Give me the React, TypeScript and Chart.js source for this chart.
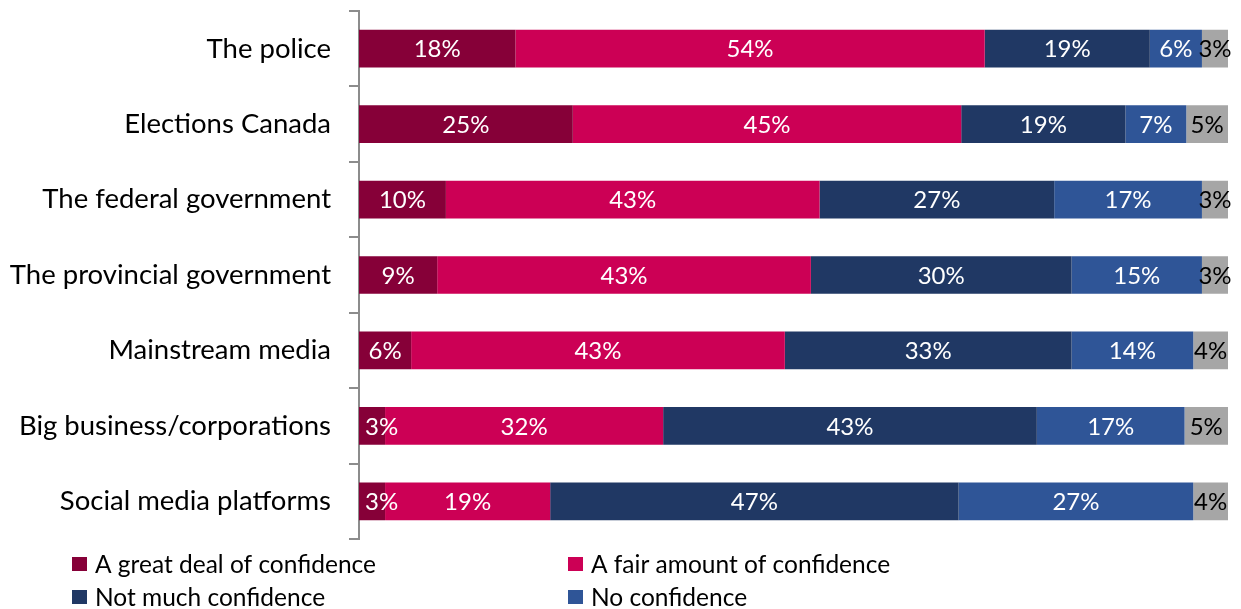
import React, { useEffect, useRef } from "react";
import { Chart, registerables } from "chart.js";

Chart.register(...registerables);

const categories = [
  "The police",
  "Elections Canada",
  "The federal government",
  "The provincial government",
  "Mainstream media",
  "Big business/corporations",
  "Social media platforms",
];
const seriesNames = [
  "A great deal of confidence",
  "A fair amount of confidence",
  "Not much confidence",
  "No confidence",
  "Don't know",
];
const greatDeal = [18, 24.6, 10, 9, 6, 3, 3];
const fairAmount = [54, 44.7, 43, 43, 43, 32, 19];
const notMuch = [19, 18.9, 27, 30, 33, 43, 47];
const noConfidence = [6, 7, 17, 15, 14, 17, 27];
const dontKnow = [3, 4.8, 3, 3, 4, 5, 4];
const colors = ["#860038", "#CC0055", "#203864", "#2F5597", "#A6A6A6"];
const labelColors = ["#FFFFFF", "#FFFFFF", "#FFFFFF", "#FFFFFF", "#000000"];
const legendCount = 4;

const FONT = "Lato, 'Open Sans', sans-serif";

const dataLabelPlugin = {
  id: "dataLabels",
  afterDatasetsDraw(chart: any) {
    const ctx = chart.ctx;
    ctx.save();
    ctx.font = `24px ${FONT}`;
    ctx.textAlign = "center";
    ctx.textBaseline = "middle";
    const left = chart.chartArea.left;
    chart.data.datasets.forEach((ds: any, di: number) => {
      const meta = chart.getDatasetMeta(di);
      meta.data.forEach((bar: any, i: number) => {
        const v = ds.data[i];
        const text = `${Math.round(v)}%`;
        const w = ctx.measureText(text).width;
        let cx = (bar.x + bar.base) / 2;
        cx = Math.max(cx, left + w / 2 + 6);
        ctx.fillStyle = labelColors[di];
        ctx.fillText(text, cx, bar.y + 1);
      });
    });
    ctx.restore();
  },
};

const legendPlugin = {
  id: "colLegend",
  afterDraw(chart: any) {
    const ctx = chart.ctx;
    ctx.save();
    ctx.font = `24.5px ${FONT}`;
    ctx.textBaseline = "middle";
    ctx.textAlign = "left";
    const colX = [72, 568];
    const rowY = [564, 597];
    for (let i = 0; i < legendCount; i++) {
      const x = colX[i % 2];
      const y = rowY[Math.floor(i / 2)];
      ctx.fillStyle = colors[i];
      ctx.fillRect(x, y - 7, 15, 14);
      ctx.fillStyle = "#000000";
      ctx.fillText(seriesNames[i], x + 23, y + 1);
    }
    ctx.restore();
  },
};

export default function App() {
  const ref = useRef<HTMLCanvasElement | null>(null);
  useEffect(() => {
    if (!ref.current) return;
    const values = [greatDeal, fairAmount, notMuch, noConfidence, dontKnow];
    const chart = new Chart(ref.current, {
      type: "bar",
      data: {
        labels: categories,
        datasets: values.map((d, i) => ({
          label: seriesNames[i],
          data: d,
          backgroundColor: colors[i],
          borderWidth: 0,
          barPercentage: 0.5,
          categoryPercentage: 1,
        })),
      },
      options: {
        indexAxis: "y",
        animation: false,
        responsive: false,
        maintainAspectRatio: false,
        layout: { padding: { top: 11, right: 13, bottom: 70, left: 0 } },
        plugins: {
          legend: { display: false },
          tooltip: { enabled: false },
        },
        scales: {
          x: {
            stacked: true,
            display: false,
            min: 0,
            max: 100,
          },
          y: {
            stacked: true,
            afterFit: (scale: any) => {
              scale.width = 359;
              scale.paddingTop = 0;
              scale.paddingBottom = 0;
            },
            grid: {
              drawOnChartArea: false,
              offset: true,
              tickLength: 10,
              color: "#8C8C8C",
              lineWidth: 2,
            },
            border: { color: "#8C8C8C", width: 2 },
            ticks: {
              padding: 18,
              color: "#000000",
              font: { family: FONT, size: 27.5 },
            },
          },
        },
      },
      plugins: [dataLabelPlugin, legendPlugin],
    });
    return () => chart.destroy();
  }, []);
  return (
    <div style={{ position: "fixed", left: 0, top: 0, width: 1241, height: 609, background: "#fff" }}>
      <canvas ref={ref} width={1241} height={609} style={{ display: "block" }} />
    </div>
  );
}
